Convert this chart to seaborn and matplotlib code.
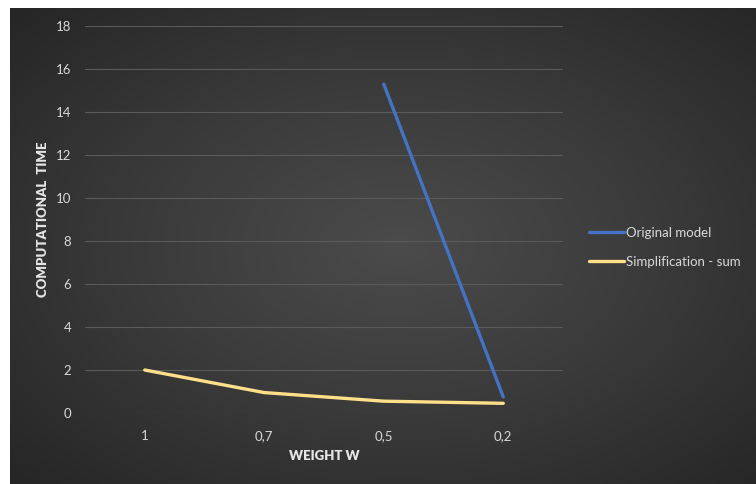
import numpy as np
import pandas as pd
import seaborn as sns
import matplotlib.pyplot as plt
from matplotlib.colors import LinearSegmentedColormap

# data
weights = ["1", "0,7", "0,5", "0,2"]
original_model = [np.nan, np.nan, 15.3, 0.75]
simplification_sum = [2.0, 0.95, 0.55, 0.45]

pos = list(range(len(weights)))
df = pd.DataFrame({
    "pos": pos * 2,
    "time": original_model + simplification_sum,
    "series": ["Original model"] * 4 + ["Simplification - sum"] * 4,
})

sns.set_style("dark")
plt.rcParams["font.family"] = ["Lato", "DejaVu Sans"]

fig = plt.figure(figsize=(7.56, 4.84), dpi=100)
fig.patch.set_facecolor("white")

# dark radial gradient panel behind the chart
bg = fig.add_axes([10 / 756, 0, 746 / 756, 476 / 484])
yy, xx = np.mgrid[0:1:300j, 0:1:400j]
r = np.sqrt(((xx - 0.52) / 0.75) ** 2 + ((yy - 0.5) / 0.75) ** 2)
cmap = LinearSegmentedColormap.from_list("bg", ["#4b4b4b", "#3a3a3a", "#262626"])
bg.imshow(r, cmap=cmap, aspect="auto", extent=[0, 1, 0, 1], vmin=0, vmax=0.95)
bg.axis("off")

ax = fig.add_axes([85 / 756, 71 / 484, 478 / 756, 387 / 484])
ax.set_facecolor("none")

sns.lineplot(data=df, x="pos", y="time", hue="series",
             palette=["#4472C4", "#FFE08A"], linewidth=2.4, ax=ax,
             solid_capstyle="round")

ax.set_xlim(-0.5, 3.5)
ax.set_ylim(0, 18)
ax.set_yticks(range(0, 19, 2))
ax.set_xticks(pos)
ax.set_xticklabels(weights)
ax.grid(axis="y", color="#5a5a5a", linewidth=0.8)
ax.grid(axis="x", visible=False)
ax.set_axisbelow(True)
for s in ax.spines.values():
    s.set_visible(False)
ax.tick_params(length=0, colors="#d9d9d9", labelsize=9.5)
ax.tick_params(axis="y", pad=10)
ax.tick_params(axis="x", pad=12)

ax.set_xlabel("WEIGHT W", color="#e6e6e6", fontsize=9.5, fontweight="heavy", labelpad=6)
ax.set_ylabel("COMPUTATIONAL  TIME", color="#e6e6e6", fontsize=9.5, fontweight="heavy", labelpad=5)

ax.legend(loc="center left", bbox_to_anchor=(1.03, 0.428), frameon=False,
          labelcolor="#d9d9d9", fontsize=9.5, handlelength=2.6, handletextpad=0.2,
          labelspacing=1.3)

fig.savefig("out.png", dpi=100)
